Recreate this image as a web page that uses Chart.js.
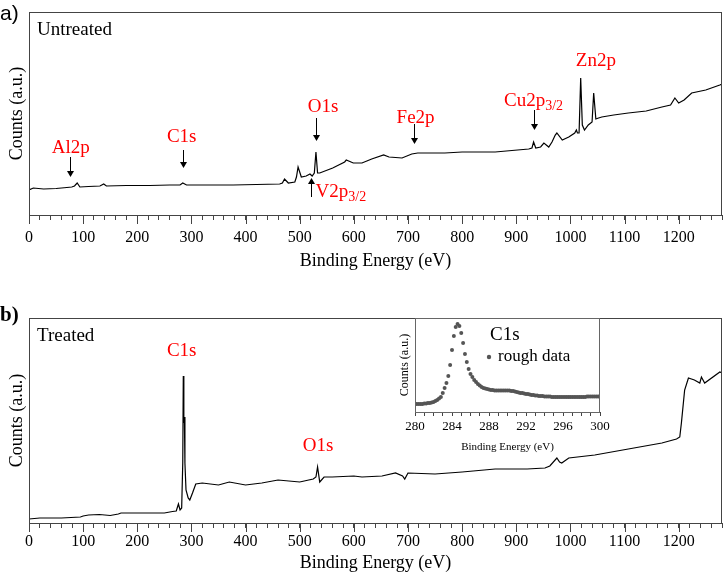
<!DOCTYPE html>
<html lang="en">
<head>
<meta charset="UTF-8">
<title>XPS survey spectra</title>
<script src="https://cdn.jsdelivr.net/npm/chart.js"></script>
<style>
  body { margin: 0; background: #fff; }
  canvas { position: absolute; }
  #chartA { left: 0; top: 0; }
  #chartB { left: 0; top: 275px; }
  #inset { left: 385px; top: 312px; }
</style>
</head>
<body>
<canvas id="chartA" width="724" height="275"></canvas>
<canvas id="chartB" width="724" height="301"></canvas>
<canvas id="inset" width="225" height="146"></canvas>
<script>
// panel a - untreated survey
const energyA = [0, 8, 27, 50, 70, 79, 84, 89, 94, 110, 131, 138, 143, 180, 223, 260, 279, 284, 291, 330,
  377, 420, 463, 468, 472, 479, 491, 494, 497, 503, 512, 519, 523, 527, 530, 533, 537, 561, 583, 586,
  599, 615, 633, 655, 665, 689, 707, 718, 768, 800, 861, 923, 929, 932, 936, 945, 951, 960, 966, 972,
  975, 985, 997, 1008, 1011, 1013, 1016, 1019, 1022, 1026, 1033, 1040, 1043, 1047, 1052, 1058, 1080, 1107, 1140, 1169,
  1185, 1193, 1200, 1210, 1224, 1250, 1276, 1280];
const countsA = [25, 27, 26, 26.5, 27.5, 28, 29, 32, 28, 28.5, 29, 31, 29, 29.5, 29.5, 30, 30, 32, 30, 30,
  30, 30.5, 31, 32, 36, 32, 33, 38, 48, 38, 39, 41, 39, 42, 63, 42, 42, 47, 53, 55,
  52, 52, 56, 60, 58, 57, 61, 62, 62, 63, 63, 66, 67, 73, 67, 68, 72, 68, 73, 80,
  82, 75, 78, 82, 85, 82, 82, 137, 90, 85, 90, 93, 122, 96, 97, 98, 100, 102, 104, 108,
  110, 117, 112, 115, 122, 125, 130, 131];

// panel b - treated survey
const energyB = [0, 20, 60, 95, 100, 110, 130, 150, 165, 170, 200, 250, 265, 272, 276, 279, 282, 284, 285, 286,
  287, 288, 290, 294, 297, 302, 308, 320, 350, 370, 400, 430, 460, 500, 525, 530, 533, 537, 545, 560,
  600, 615, 652, 677, 690, 694, 700, 750, 800, 861, 920, 953, 962, 975, 980, 984, 997, 1045, 1107, 1169,
  1196, 1202, 1205, 1211, 1218, 1229, 1239, 1242, 1248, 1276, 1280];
const countsB = [4, 5, 5, 6, 7, 8, 8.5, 7.5, 9, 10, 10, 10, 11.5, 12, 19, 13, 15, 60, 147, 100,
  106, 60, 33, 25, 23, 30, 39, 40, 38, 41, 38, 40, 43, 41, 44, 46, 56, 41, 46, 46,
  47, 46, 47, 50, 47, 44, 50, 49, 51, 54, 54, 55, 57, 65, 61, 60, 65, 68, 74, 80,
  84, 86, 100, 133, 145, 143, 140, 146, 140, 151, 150];

// inset - C1s high resolution
const insetEnergy = [280.0, 280.2, 280.4, 280.6, 280.8, 281.0, 281.2, 281.4, 281.6, 281.8,
  282.0, 282.2, 282.4, 282.6, 282.8, 283.0, 283.2, 283.4, 283.6, 283.8,
  284.0, 284.2, 284.4, 284.6, 284.8, 285.0, 285.2, 285.4, 285.6, 285.8,
  286.0, 286.2, 286.4, 286.6, 286.8, 287.0, 287.2, 287.4, 287.6, 287.8,
  288.0, 288.2, 288.4, 288.6, 288.8, 289.0, 289.2, 289.4, 289.6, 289.8,
  290.0, 290.2, 290.4, 290.6, 290.8, 291.0, 291.2, 291.4, 291.6, 291.8,
  292.0, 292.2, 292.4, 292.6, 292.8, 293.0, 293.2, 293.4, 293.6, 293.8,
  294.0, 294.2, 294.4, 294.6, 294.8, 295.0, 295.2, 295.4, 295.6, 295.8,
  296.0, 296.2, 296.4, 296.6, 296.8, 297.0, 297.2, 297.4, 297.6, 297.8,
  298.0, 298.2, 298.4, 298.6, 298.8, 299.0, 299.2, 299.4, 299.6, 299.8, 300.0];
const insetCounts = [8, 8, 8, 8, 8, 8.5, 8.5, 9, 9, 9.5,
  10, 11, 12, 13.5, 15, 19, 24, 29, 36, 47,
  62, 76, 85, 88, 86, 79, 69, 58, 50, 43,
  38, 35, 32, 30, 28, 26.5, 25, 24, 23.5, 23,
  22.5, 22, 22, 21.5, 21.5, 21.5, 21.5, 21.5, 21.5, 21.5,
  21.5, 21.5, 21, 21, 20.5, 20, 19.5, 19, 19, 18.5,
  18, 18, 17.5, 17, 17, 16.5, 16.5, 16, 16, 16,
  15.5, 15.5, 15.5, 15.5, 15, 15, 15, 15, 15, 15,
  15, 15, 15, 15, 15, 15, 15, 15, 15, 15,
  15, 15, 15, 15.5, 15.5, 15.5, 15.5, 15.5, 15.5, 15.5, 15.5];

// peak labels (x in eV, y in counts)
const peaksA = ['Al2p', 'C1s', 'O1s', 'V2p', 'Fe2p', 'Cu2p', 'Zn2p'];
const peaksASub = ['', '', '', '3/2', '', '3/2', ''];
const peaksAX = [77, 282, 543, 576, 714, 932, 1047];
const peaksAY = [67, 78, 108, 23, 97, 114, 154];
const arrowsAX = [76, 284, 530, 521, 711, 932];
const arrowsAFrom = [58, 65, 97, 18, 91, 105];
const arrowsATo = [38, 47, 74, 37, 71, 85];

const peaksB = ['C1s', 'O1s'];
const peaksBX = [282, 534];
const peaksBY = [172, 77];

const serif = '"Liberation Serif", serif';

function toXY(xs, ys) {
  return xs.map((x, i) => ({ x: x, y: ys[i] }));
}

function drawLabel(ctx, x, y, main, sub, size) {
  const subSize = Math.round(size * 0.72);
  ctx.font = size + 'px ' + serif;
  const w1 = ctx.measureText(main).width;
  ctx.font = subSize + 'px ' + serif;
  const w2 = sub ? ctx.measureText(sub).width : 0;
  const x0 = x - (w1 + w2) / 2;
  ctx.textAlign = 'left';
  ctx.textBaseline = 'middle';
  ctx.font = size + 'px ' + serif;
  ctx.fillText(main, x0, y);
  if (sub) {
    ctx.font = subSize + 'px ' + serif;
    ctx.fillText(sub, x0 + w1, y + size * 0.28);
  }
}

function drawArrow(ctx, x, y1, y2) {
  const dir = Math.sign(y2 - y1);
  ctx.beginPath();
  ctx.moveTo(x, y1);
  ctx.lineTo(x, y2 - dir * 4);
  ctx.stroke();
  ctx.beginPath();
  ctx.moveTo(x - 3.5, y2 - dir * 6);
  ctx.lineTo(x + 3.5, y2 - dir * 6);
  ctx.lineTo(x, y2);
  ctx.closePath();
  ctx.fill();
}

// fixed axis size, no extra side padding for edge labels
function fixHeight(h) {
  return s => {
    s.height = h;
    s.paddingLeft = 0;
    s.paddingRight = 0;
  };
}

const boxPlugin = {
  id: 'box',
  beforeDraw(chart, args, opts) {
    if (!opts.fill) return;
    const { ctx, chartArea: a } = chart;
    ctx.save();
    ctx.fillStyle = '#fff';
    ctx.fillRect(a.left, a.top, a.right - a.left, a.bottom - a.top);
    ctx.restore();
  },
  afterDraw(chart, args, opts) {
    const { ctx, chartArea: a } = chart;
    ctx.save();
    ctx.strokeStyle = opts.color || '#444';
    ctx.lineWidth = 1;
    ctx.strokeRect(Math.round(a.left) + 0.5, Math.round(a.top) + 0.5,
      Math.round(a.right - a.left) - 1, Math.round(a.bottom - a.top));
    // longer marks for the labelled ticks
    if (opts.major) {
      const x = chart.scales.x;
      ctx.beginPath();
      x.ticks.forEach(t => {
        if (t.value % opts.major === 0) {
          const px = Math.round(x.getPixelForValue(t.value)) + 0.5;
          ctx.moveTo(px, a.bottom);
          ctx.lineTo(px, a.bottom + opts.majorLen);
        }
      });
      ctx.stroke();
    }
    ctx.restore();
  }
};

// labels, arrows and panel captions
const notesPlugin = {
  id: 'notes',
  afterDraw(chart, args, opts) {
    const { ctx, chartArea: a, scales } = chart;
    ctx.save();
    ctx.fillStyle = '#000';
    ctx.textBaseline = 'middle';
    ctx.textAlign = 'left';
    ctx.font = opts.panelFont;
    ctx.fillText(opts.panel, 0, a.top + opts.panelDy);
    ctx.font = '19px ' + serif;
    ctx.fillText(opts.title, a.left + 8, a.top + 18);

    ctx.fillStyle = '#ff0000';
    opts.names.forEach((n, i) => {
      drawLabel(ctx, scales.x.getPixelForValue(opts.xs[i]), scales.y.getPixelForValue(opts.ys[i]),
        n, opts.subs ? opts.subs[i] : '', 19);
    });

    ctx.strokeStyle = '#000';
    ctx.fillStyle = '#000';
    ctx.lineWidth = 1;
    (opts.arrowX || []).forEach((x, i) => {
      const px = Math.round(scales.x.getPixelForValue(x)) + 0.5;
      drawArrow(ctx, px, scales.y.getPixelForValue(opts.arrowFrom[i]), scales.y.getPixelForValue(opts.arrowTo[i]));
    });
    ctx.restore();
  }
};

function surveyChart(id, xs, ys, yMax, padTop, xHeight, tickPad, titlePad, notes) {
  return new Chart(document.getElementById(id), {
    type: 'line',
    data: {
      datasets: [{
        data: toXY(xs, ys),
        borderColor: '#000',
        borderWidth: 1.2,
        pointRadius: 0,
        tension: 0
      }]
    },
    options: {
      responsive: false,
      animation: false,
      events: [],
      layout: { padding: { top: padTop, right: 2, left: 0, bottom: 0 } },
      plugins: {
        legend: { display: false },
        tooltip: { enabled: false },
        box: { color: '#444', major: 100, majorLen: 9 },
        notes: notes
      },
      scales: {
        x: {
          type: 'linear',
          min: 0,
          max: 1280,
          afterFit: fixHeight(xHeight),
          border: { display: false },
          grid: { drawOnChartArea: false, drawTicks: true, tickLength: 5, color: '#444' },
          ticks: {
            stepSize: 20,
            autoSkip: false,
            maxRotation: 0,
            padding: tickPad,
            color: '#000',
            font: { family: serif, size: 16 },
            callback: v => (v % 100 === 0 ? v : '')
          },
          title: {
            display: true,
            text: 'Binding Energy (eV)',
            color: '#000',
            font: { family: serif, size: 18 },
            padding: { top: 0, bottom: titlePad }
          }
        },
        y: {
          min: 0,
          max: yMax,
          afterFit: s => { s.width = 29; },
          border: { display: false },
          grid: { display: false },
          ticks: { display: false },
          title: {
            display: true,
            text: 'Counts (a.u.)',
            color: '#000',
            font: { family: serif, size: 18 },
            padding: { top: 6, bottom: 0 }
          }
        }
      }
    },
    plugins: [boxPlugin, notesPlugin]
  });
}

surveyChart('chartA', energyA, countsA, 203, 12, 60, 8, 3, {
  panel: 'a)', panelDy: 2, panelFont: '21px "Liberation Sans", sans-serif', title: 'Untreated',
  names: peaksA, subs: peaksASub, xs: peaksAX, ys: peaksAY,
  arrowX: arrowsAX, arrowFrom: arrowsAFrom, arrowTo: arrowsATo
});

surveyChart('chartB', energyB, countsB, 205, 43, 53, 4, 2, {
  panel: 'b)', panelDy: -2, panelFont: 'bold 21px ' + serif, title: 'Treated',
  names: peaksB, xs: peaksBX, ys: peaksBY
});

// inset with C1s detail
const insetLegend = {
  id: 'insetLegend',
  afterDraw(chart) {
    const { ctx, chartArea: a } = chart;
    ctx.save();
    ctx.fillStyle = '#000';
    ctx.textAlign = 'left';
    ctx.textBaseline = 'middle';
    ctx.font = '19px ' + serif;
    ctx.fillText('C1s', a.left + 75, a.top + 17);
    ctx.font = '17px ' + serif;
    ctx.fillText('rough data', a.left + 83, a.top + 39);
    ctx.fillStyle = '#555';
    ctx.beginPath();
    ctx.arc(a.left + 74, a.top + 39, 2.2, 0, Math.PI * 2);
    ctx.fill();
    ctx.restore();
  }
};

new Chart(document.getElementById('inset'), {
  type: 'scatter',
  data: {
    datasets: [{
      label: 'rough data',
      data: toXY(insetEnergy, insetCounts),
      backgroundColor: '#555',
      borderColor: '#555',
      pointRadius: 2,
      borderWidth: 0
    }]
  },
  options: {
    responsive: false,
    animation: false,
    events: [],
    layout: { padding: { top: 6, right: 10, left: 0, bottom: 0 } },
    plugins: {
      legend: { display: false },
      tooltip: { enabled: false },
      box: { color: '#666', fill: true }
    },
    scales: {
      x: {
        type: 'linear',
        min: 280,
        max: 300,
        afterFit: fixHeight(46),
        border: { display: false },
        grid: { drawOnChartArea: false, drawTicks: true, tickLength: 4, color: '#444' },
        ticks: {
          stepSize: 1,
          autoSkip: false,
          maxRotation: 0,
          padding: 3,
          color: '#000',
          font: { family: serif, size: 13 },
          callback: v => (v % 4 === 0 ? v : '')
        },
        title: {
          display: true,
          text: 'Binding Energy (eV)',
          color: '#000',
          font: { family: serif, size: 11 },
          padding: { top: 0, bottom: 4 }
        }
      },
      y: {
        min: 0,
        max: 94,
        afterFit: s => { s.width = 30; },
        border: { display: false },
        grid: { display: false },
        ticks: { display: false },
        title: {
          display: true,
          text: 'Counts (a.u.)',
          color: '#000',
          font: { family: serif, size: 12 },
          padding: { top: 13, bottom: 0 }
        }
      }
    }
  },
  plugins: [boxPlugin, insetLegend]
});
</script>
</body>
</html>
